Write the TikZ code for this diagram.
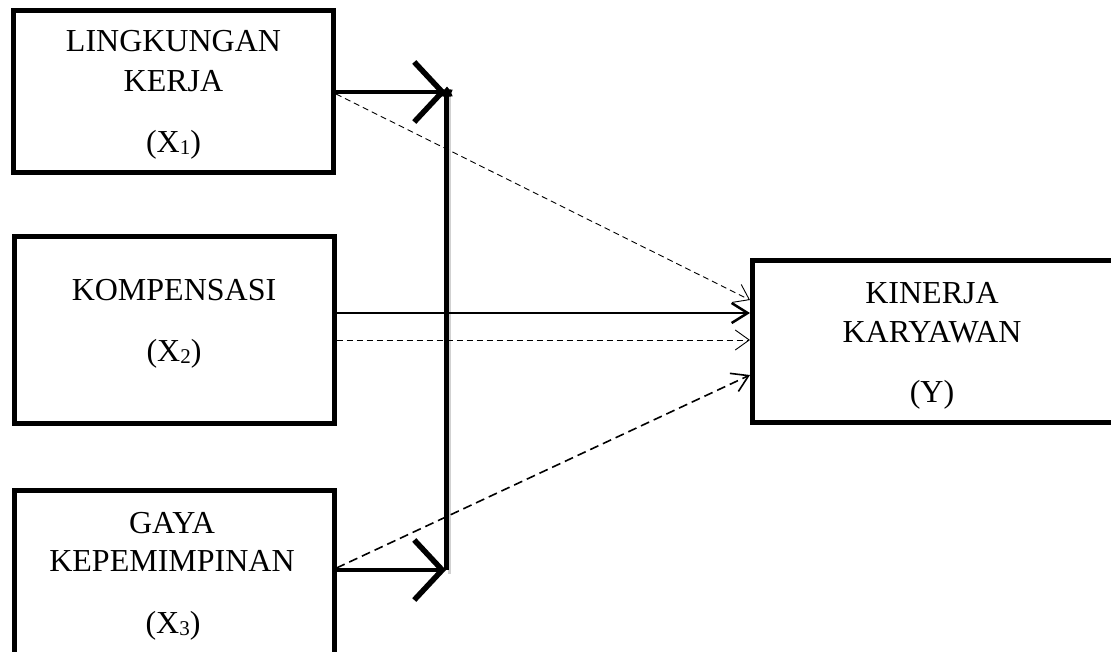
\documentclass[tikz,border=0pt]{standalone}
\usepackage{fontspec}
\setmainfont{Liberation Serif}
\usetikzlibrary{arrows.meta,shapes.geometric}
\newcommand{\subnum}[1]{{\fontsize{21}{21}\selectfont\raisebox{-2pt}{#1}}}
\begin{document}
\begin{tikzpicture}[x=1pt,y=-1pt,
  box/.style={draw,line width=5pt,inner sep=0pt},
  lbl/.style={anchor=base,inner sep=0pt,font=\fontsize{32}{38}\selectfont},
  bigarrow/.style={line width=4pt,-{Straight Barb[length=28pt,width=60pt,line width=5.5pt]}},
  thindash/.style={line width=0.9pt,dash pattern=on 6pt off 4pt,-{Straight Barb[length=14pt,width=20pt,line width=0.9pt]}},
  midsolid/.style={line width=2pt,-{Straight Barb[length=16pt,width=20pt,line width=2.5pt]}},
  middash/.style={line width=1.6pt,dash pattern=on 9pt off 5pt,-{Straight Barb[length=16pt,width=20pt,line width=1.6pt]}}
]
\useasboundingbox (0,0) rectangle (1111,651);
\clip (0,0) rectangle (1111,651);
\fill[white] (0,0) rectangle (1111,651);

\node[box,minimum width=320pt,minimum height=161.5pt] (box1) at (173.5,91.25) {};
\node[box,minimum width=320pt,minimum height=187pt] (box2) at (174,329.5) {};
\node[box,minimum width=320pt,minimum height=220pt] (box3) at (174,600) {};
\node[box,minimum width=360.5pt,minimum height=162pt] (boxY) at (932.75,341) {};

\node[lbl] (l1a) at (173.5,51.7) {LINGKUNGAN};
\node[lbl] (l1b) at (173.5,91.7) {KERJA};
\node[lbl] (l1c) at (173.5,152) {(X\subnum{1})};
\node[lbl] (l2a) at (174,300.7) {KOMPENSASI};
\node[lbl] (l2b) at (174,361.7) {(X\subnum{2})};
\node[lbl] (l3a) at (172,533.3) {GAYA};
\node[lbl] (l3b) at (172,571.7) {KEPEMIMPINAN};
\node[lbl] (l3c) at (173,633) {(X\subnum{3})};
\node[lbl] (lya) at (932,303) {KINERJA};
\node[lbl] (lyb) at (932,342) {KARYAWAN};
\node[lbl] (lyc) at (932,402) {(Y)};

\coordinate (v1) at (446,92);
\coordinate (v3) at (446,570);
\draw[black!18,line width=3pt] (449.5,96) -- (449.5,574);
\draw[line width=5pt] (v1) -- (v3);
\draw[bigarrow] (box1.east |- v1) -- (v1);
\draw[bigarrow] (box3.east |- v3) -- (v3);
\node[star,star points=6,fill=black,minimum size=13pt,inner sep=0pt] (st) at (447,93) {};

\draw[thindash] (box1.east |- 0,94) -- (boxY.west |- 0,300);
\draw[midsolid] (box2.east |- 0,313) -- (boxY.west |- 0,313);
\draw[thindash] (box2.east |- 0,340) -- (boxY.west |- 0,340);
\draw[middash] (box3.east |- 0,568) -- (boxY.west |- 0,375);
\end{tikzpicture}
\end{document}
